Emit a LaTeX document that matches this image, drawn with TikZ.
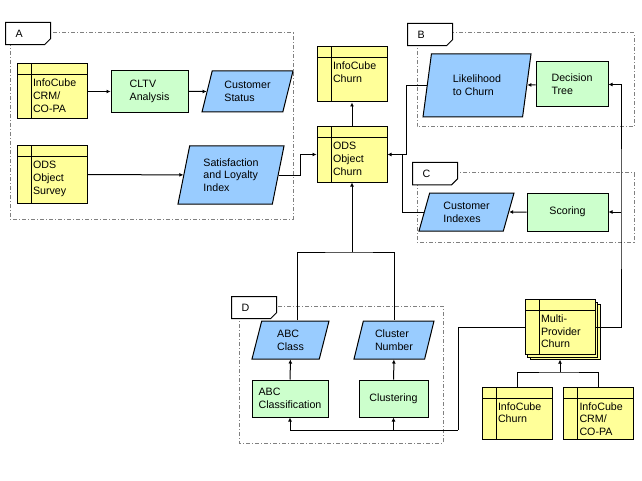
\documentclass[tikz,border=0pt]{standalone}
\usepackage{fontspec}
\setmainfont{Liberation Sans}
\usepackage{tikz}
\usetikzlibrary{arrows.meta,shapes.geometric,shapes.misc,shadows}

\definecolor{cubefill}{HTML}{FFFF99}
\definecolor{procfill}{HTML}{CCFFCC}
\definecolor{datafill}{HTML}{99CCFF}
\definecolor{grpline}{HTML}{808080}

\begin{document}
\begin{tikzpicture}[x=0.75pt, y=-0.75pt,
        every node/.style={font=\fontsize{8}{9.5}\selectfont},
        cube/.style={rectangle, draw, fill=cubefill, line width=0.75pt, align=left,
            text width=28.5pt, inner xsep=12pt, inner ysep=0pt, text height=17.25pt, text depth=24pt,
            path picture={
                \draw[line width=0.75pt] ([yshift=-8.25pt]path picture bounding box.north west) -- ([yshift=-8.25pt]path picture bounding box.north east);
                \draw[line width=0.75pt] ([xshift=10.5pt]path picture bounding box.north west) -- ([xshift=10.5pt]path picture bounding box.south west);
            }},
        proc/.style={rectangle, draw, fill=procfill, line width=0.75pt, align=left},
        data/.style={trapezium, trapezium left angle=67, trapezium right angle=113, trapezium stretches body,
            draw, fill=datafill, line width=0.75pt, align=left, inner sep=1pt},
        grp/.style={draw=grpline, line width=0.75pt, dash pattern=on 3pt off 1.5pt on 0.75pt off 1.5pt},
        grplabel/.style={chamfered rectangle, chamfered rectangle corners=south east,
            chamfered rectangle xsep=2.25pt, chamfered rectangle ysep=2.25pt,
            draw, fill=white, line width=0.75pt, anchor=north west, align=left,
            text width=18.75pt, inner xsep=5.25pt, minimum height=16pt},
        flow/.style={draw, line width=0.75pt, -{Latex[length=3pt,width=3pt]}},
        link/.style={draw, line width=0.75pt}
    ]
        \useasboundingbox (0,0) rectangle (642,481);

        % Groups
        \draw[grp] (10,33) rectangle (293,219);
        \draw[grp] (417,33) rectangle (634,127);
        \draw[grp] (417,173) rectangle (634,242);
        \draw[grp] (239,306) rectangle (443,443);
        \node[grplabel] (labA) at (5,22) {A};
        \node[grplabel] (labB) at (407,23) {B};
        \node[grplabel] (labC) at (412,162) {C};
        \node[grplabel] (labD) at (231,296) {D};

        % Group A
        \node[cube] (crmA) at (52,91.5) {InfoCube\\CRM/\\CO-PA};
        \node[proc, minimum width=57.75pt, minimum height=31.5pt] (cltv) at (149.5,91.5) {CLTV\\Analysis};
        \node[data, minimum width=68.25pt, minimum height=30.75pt, trapezium left angle=66, trapezium right angle=114] (status) at (247.5,91.5) {Customer\\Status};
        \node[cube, text depth=25.5pt] (survey) at (52,174.5) {ODS\\Object\\Survey};
        \node[data, minimum width=79.5pt, minimum height=43.5pt, trapezium left angle=72, trapezium right angle=108] (satis) at (231,175) {Satisfaction\\and Loyalty\\Index};

        % Churn objects
        \node[cube] (cubechurn) at (352,74.5) {InfoCube\\Churn};
        \node[cube] (odschurn) at (352,154.5) {ODS\\Object\\Churn};

        % Group B
        \node[data, minimum width=81pt, minimum height=47.25pt, trapezium left angle=70, trapezium right angle=110] (likeli) at (477,85.5) {Likelihood\\to Churn};
        \node[proc, minimum width=54pt, minimum height=33.75pt] (dtree) at (572,84.5) {Decision\\Tree};

        % Group C
        \node[data, minimum width=71.25pt, minimum height=28.5pt, trapezium left angle=65, trapezium right angle=115] (custidx) at (466.5,212) {Customer\\Indexes};
        \node[proc, minimum width=60.75pt, minimum height=28.5pt] (scoring) at (567.5,212) {Scoring};

        % Group D
        \node[data, minimum width=57.75pt, minimum height=28.5pt] (abcclass) at (290.5,340) {ABC\\Class};
        \node[data, minimum width=60pt, minimum height=28.5pt, trapezium left angle=68, trapezium right angle=112] (clusnum) at (394,340) {Cluster\\Number};
        \node[proc, minimum width=57pt, minimum height=27.75pt] (abcclassif) at (290,398.5) {ABC\\Classification};
        \node[proc, minimum width=51.75pt, minimum height=27.75pt] (clustering) at (393.5,398.5) {Clustering};

        % Multi-Provider and sources
        \node[cube, double copy shadow={shadow xshift=1.9pt, shadow yshift=-1.9pt}] (multi) at (560,327) {Multi-\\Provider\\Churn};
        \node[cube, text depth=21.75pt] (cubechurn2) at (517,413) {InfoCube\\Churn};
        \node[cube, text depth=21.75pt] (crm2) at (598.5,413) {InfoCube\\CRM/\\CO-PA};

        % Connections
        \draw[flow] (crmA) -- (cltv);
        \draw[flow] (cltv) -- (status);
        \draw[flow] (survey) -- (satis);
        \draw[flow] (satis.east) -| ([xshift=-12pt]odschurn.west) -- (odschurn.west);
        \draw[flow] (odschurn) -- (cubechurn);
        \draw[flow] (likeli.west) -| ([xshift=14.25pt]odschurn.east) -- (odschurn.east);
        \draw[link] (custidx.west) -| ([xshift=11.25pt]odschurn.east);
        \draw[flow] (dtree) -- (likeli);
        \draw[flow] (scoring) -- (custidx);

        \coordinate (rbus) at (621,212);
        \draw[flow] (multi.east) -| (rbus) |- (dtree.east);
        \draw[flow] (rbus) -- (scoring.east);

        \coordinate (lbus) at (458,430);
        \draw[link] (multi.west) -| (lbus);
        \draw[flow] (lbus) -| (abcclassif.south);
        \draw[flow] (lbus -| clustering.south) -- (clustering.south);
        \draw[flow] (abcclassif) -- (abcclass);
        \draw[flow] (clustering) -- (clusnum);

        \coordinate (dtop) at (352,252);
        \draw[link] ([xshift=5.6pt]abcclass.north) |- (dtop) -| (clusnum.north);
        \draw[flow] (dtop) -- (odschurn.south);

        \coordinate (mtop) at (560,372);
        \draw[link] (cubechurn2.north) |- (mtop) -| (crm2.north);
        \draw[flow] (mtop) -- ([yshift=-3.5pt]multi.south);
    \end{tikzpicture}
\end{document}
